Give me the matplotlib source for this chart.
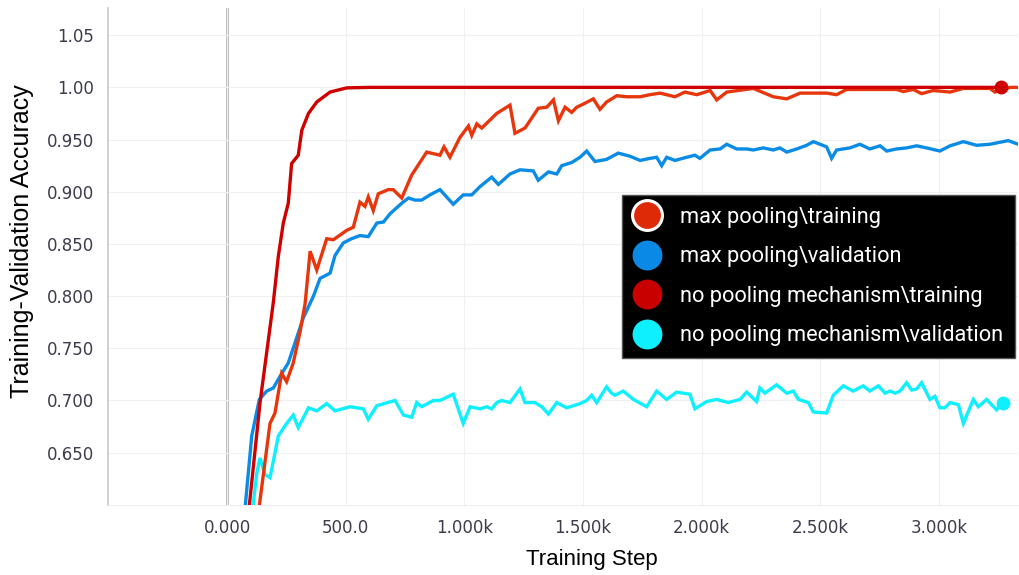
"""Training / validation accuracy curves for max pooling vs. no pooling,
drawn in a TensorBoard-like style with a dark legend box.
"""

import matplotlib

matplotlib.use("Agg")
import matplotlib.pyplot as plt
from matplotlib.lines import Line2D
from matplotlib.ticker import FixedLocator, FixedFormatter

# --- data (smoothed scalars) -------------------------------------------------
NOPOOL_TRAIN_STEP = [85, 139, 167, 195, 216, 237, 258, 272, 300, 315, 343,
                     378, 434, 504, 600, 3262]
NOPOOL_TRAIN_ACC = [0.58, 0.698, 0.746, 0.794, 0.838, 0.870, 0.889, 0.927,
                    0.935, 0.959, 0.975, 0.986, 0.9955, 0.9995, 1.0, 1.0]

MAXPOOL_TRAIN_STEP = [125, 181, 202, 230, 251, 279, 307, 329, 350, 378, 420,
                      448, 504, 532, 560, 581, 595, 616, 637, 679, 700, 736,
                      778, 841, 897, 914, 939, 981, 1017, 1031, 1052, 1073,
                      1136, 1192, 1213, 1255, 1276, 1311, 1347, 1375, 1396,
                      1424, 1452, 1473, 1501, 1543, 1571, 1599, 1642, 1684,
                      1740, 1782, 1824, 1887, 1929, 1979, 2035, 2063, 2105,
                      2217, 2301, 2358, 2414, 2526, 2568, 2610, 2722, 2821,
                      2849, 2891, 2926, 2975, 3046, 3102, 3214, 3235, 3269,
                      3300, 3333]
MAXPOOL_TRAIN_ACC = [0.58, 0.678, 0.688, 0.726, 0.718, 0.736, 0.765, 0.793,
                     0.843, 0.825, 0.855, 0.854, 0.863, 0.866, 0.890, 0.886,
                     0.895, 0.882, 0.898, 0.902, 0.902, 0.894, 0.916, 0.938,
                     0.935, 0.943, 0.933, 0.952, 0.963, 0.954, 0.965, 0.961,
                     0.975, 0.983, 0.956, 0.961, 0.968, 0.980, 0.981, 0.988,
                     0.968, 0.981, 0.976, 0.981, 0.984, 0.989, 0.979, 0.986,
                     0.992, 0.991, 0.991, 0.993, 0.9945, 0.991, 0.9955, 0.993,
                     0.997, 0.988, 0.9955, 0.999, 0.991, 0.989, 0.9945, 0.9945,
                     0.993, 0.998, 0.998, 0.998, 0.996, 0.998, 0.994, 0.997,
                     0.9955, 0.999, 0.999, 0.9955, 0.998, 1.0, 1.0]

MAXPOOL_VAL_STEP = [65, 104, 136, 167, 195, 223, 258, 286, 321, 364, 392, 434,
                    455, 490, 525, 560, 595, 631, 659, 687, 736, 764, 792, 820,
                    855, 897, 953, 995, 1031, 1066, 1115, 1143, 1192, 1234,
                    1290, 1311, 1354, 1389, 1410, 1452, 1487, 1515, 1550, 1599,
                    1648, 1698, 1740, 1782, 1810, 1831, 1852, 1887, 1936, 1971,
                    1992, 2035, 2077, 2105, 2147, 2189, 2217, 2259, 2301, 2329,
                    2358, 2400, 2442, 2470, 2498, 2526, 2547, 2568, 2624, 2666,
                    2708, 2751, 2779, 2821, 2863, 2905, 2947, 3003, 3046, 3102,
                    3158, 3214, 3291, 3333]
MAXPOOL_VAL_ACC = [0.57, 0.666, 0.701, 0.709, 0.712, 0.723, 0.736, 0.755,
                   0.779, 0.800, 0.817, 0.822, 0.839, 0.851, 0.855, 0.858,
                   0.857, 0.870, 0.871, 0.879, 0.889, 0.894, 0.892, 0.892,
                   0.897, 0.902, 0.888, 0.897, 0.897, 0.905, 0.914, 0.907,
                   0.917, 0.921, 0.920, 0.911, 0.919, 0.917, 0.925, 0.928,
                   0.933, 0.939, 0.929, 0.931, 0.937, 0.934, 0.930, 0.932,
                   0.933, 0.925, 0.933, 0.930, 0.933, 0.935, 0.932, 0.940,
                   0.941, 0.9455, 0.941, 0.941, 0.940, 0.942, 0.940, 0.942,
                   0.938, 0.941, 0.9445, 0.948, 0.9455, 0.943, 0.932, 0.940,
                   0.942, 0.9455, 0.941, 0.944, 0.939, 0.941, 0.942, 0.944,
                   0.942, 0.939, 0.944, 0.948, 0.9445, 0.9455, 0.949, 0.9455]

NOPOOL_VAL_STEP = [100, 125, 139, 160, 181, 216, 251, 279, 300, 343, 378, 420,
                   455, 518, 574, 595, 631, 708, 743, 778, 799, 820, 869, 897,
                   953, 995, 1024, 1066, 1094, 1115, 1136, 1157, 1192, 1234,
                   1255, 1297, 1326, 1354, 1389, 1431, 1487, 1515, 1536, 1557,
                   1599, 1620, 1634, 1669, 1712, 1768, 1810, 1852, 1894, 1950,
                   1971, 2021, 2063, 2112, 2161, 2189, 2231, 2245, 2266, 2315,
                   2358, 2386, 2407, 2449, 2470, 2526, 2554, 2596, 2638, 2680,
                   2708, 2744, 2772, 2793, 2814, 2835, 2863, 2884, 2905, 2926,
                   2961, 2982, 3003, 3024, 3046, 3081, 3102, 3144, 3165, 3200,
                   3242, 3267]
NOPOOL_VAL_ACC = [0.58, 0.63, 0.645, 0.629, 0.626, 0.666, 0.678, 0.686, 0.674,
                  0.693, 0.690, 0.697, 0.690, 0.694, 0.692, 0.682, 0.695,
                  0.700, 0.686, 0.684, 0.698, 0.694, 0.700, 0.700, 0.706,
                  0.678, 0.694, 0.692, 0.694, 0.692, 0.698, 0.700, 0.698,
                  0.711, 0.698, 0.698, 0.694, 0.687, 0.698, 0.693, 0.697,
                  0.700, 0.705, 0.698, 0.713, 0.707, 0.705, 0.709, 0.701,
                  0.694, 0.709, 0.701, 0.708, 0.706, 0.692, 0.699, 0.701,
                  0.698, 0.701, 0.708, 0.699, 0.712, 0.707, 0.715, 0.707,
                  0.709, 0.701, 0.698, 0.689, 0.688, 0.705, 0.714, 0.709,
                  0.714, 0.709, 0.714, 0.707, 0.709, 0.707, 0.709, 0.717,
                  0.710, 0.711, 0.717, 0.701, 0.704, 0.693, 0.693, 0.698,
                  0.696, 0.678, 0.701, 0.694, 0.701, 0.691, 0.698]

X_TICKS = [0, 500, 1000, 1500, 2000, 2500, 3000]
X_TICK_LABELS = ["0.000", "500.0", "1.000k", "1.500k", "2.000k", "2.500k", "3.000k"]
Y_TICKS = [0.65, 0.70, 0.75, 0.80, 0.85, 0.90, 0.95, 1.00, 1.05]
Y_TICK_LABELS = ["0.650", "0.700", "0.750", "0.800", "0.850", "0.900", "0.950",
                 "1.00", "1.05"]

SERIES = [
    ("no pooling mechanism\\validation", NOPOOL_VAL_STEP, NOPOOL_VAL_ACC, "#0ff0ff"),
    ("max pooling\\validation", MAXPOOL_VAL_STEP, MAXPOOL_VAL_ACC, "#0a8ce6"),
    ("max pooling\\training", MAXPOOL_TRAIN_STEP, MAXPOOL_TRAIN_ACC, "#e8360c"),
    ("no pooling mechanism\\training", NOPOOL_TRAIN_STEP, NOPOOL_TRAIN_ACC, "#cf0000"),
]

LEGEND_ORDER = [
    ("max pooling\\training", "#df2a08", "white"),
    ("max pooling\\validation", "#0a8ae6", None),
    ("no pooling mechanism\\training", "#c80000", None),
    ("no pooling mechanism\\validation", "#0ff0ff", None),
]

LABEL_FONT = ["Liberation Sans", "DejaVu Sans"]
TICK_FONT = ["DejaVu Sans"]
LEGEND_FONT = ["Roboto", "DejaVu Sans"]


def main() -> None:
    fig = plt.figure(figsize=(10.2, 5.75), dpi=100)
    ax = fig.add_axes([0.106, 0.122, 0.892, 0.864])

    for _, steps, acc, color in SERIES:
        ax.plot(steps, acc, color=color, lw=2.4, solid_joinstyle="miter",
                zorder=3)

    # end-of-run markers for the shorter runs
    ax.plot(NOPOOL_TRAIN_STEP[-1], NOPOOL_TRAIN_ACC[-1], "o", color="#cf0000",
            ms=9, zorder=5)
    ax.plot(NOPOOL_VAL_STEP[-1], NOPOOL_VAL_ACC[-1], "o", color="#0ff0ff",
            ms=9, zorder=5)

    ax.axvline(0, color="#a8a8a8", lw=1.8, zorder=1)

    ax.set_xlim(-501, 3332)
    ax.set_ylim(0.6, 1.076)
    ax.xaxis.set_major_locator(FixedLocator(X_TICKS))
    ax.xaxis.set_major_formatter(FixedFormatter(X_TICK_LABELS))
    ax.yaxis.set_major_locator(FixedLocator(Y_TICKS))
    ax.yaxis.set_major_formatter(FixedFormatter(Y_TICK_LABELS))
    ax.tick_params(length=0, labelsize=12, labelcolor="#3c3c4c")
    ax.tick_params(axis="x", pad=10)
    ax.tick_params(axis="y", pad=10)
    for lbl in ax.get_xticklabels() + ax.get_yticklabels():
        lbl.set_family(TICK_FONT)

    ax.grid(True, color="#f0f0f0", lw=0.8, zorder=0)
    for side in ("top", "right"):
        ax.spines[side].set_visible(False)
    ax.spines["left"].set_color("#c8c8c8")
    ax.spines["left"].set_linewidth(1.2)
    ax.spines["bottom"].set_color("#eeeeee")

    ax.set_xlabel("Training Step", fontsize=16, family=LABEL_FONT,
                  color="#000000")
    ax.xaxis.set_label_coords(0.532, -0.088)
    ax.set_ylabel("Training-Validation Accuracy", fontsize=18,
                  family=LABEL_FONT, color="#000000")
    ax.yaxis.set_label_coords(-0.082, 0.531)

    handles = []
    for name, color, edge in LEGEND_ORDER:
        handles.append(Line2D([], [], ls="none", marker="o", ms=21.5,
                              markerfacecolor=color,
                              markeredgecolor=edge or color,
                              markeredgewidth=2.2 if edge else 0,
                              label=name))
    leg = ax.legend(handles=handles, loc="upper left",
                    bbox_to_anchor=(0.565, 0.624), borderaxespad=0,
                    frameon=True, fancybox=False, facecolor="black",
                    edgecolor="#555555", framealpha=1.0, labelcolor="white",
                    handlelength=1.2, handletextpad=0.9, labelspacing=0.85,
                    borderpad=0.55, prop={"family": LEGEND_FONT, "size": 15.7})
    leg.set_zorder(10)

    fig.savefig("out.png", dpi=100)
    plt.close(fig)


if __name__ == "__main__":
    main()
